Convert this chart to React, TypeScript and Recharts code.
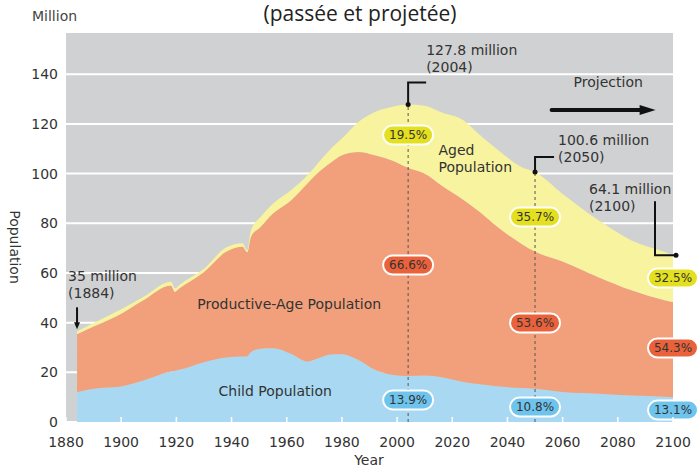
import React from 'react';
import {
  AreaChart,
  Area,
  XAxis,
  YAxis,
  CartesianGrid,
  ReferenceLine,
  ReferenceDot,
} from 'recharts';

// population in millions
const years = [
  1884, 1890, 1900, 1908, 1918, 1919.5, 1921, 1930, 1938, 1944, 1945.7, 1947,
  1950.5, 1955, 1961.5, 1967.5, 1971, 1976, 1980, 1986, 1992, 1998, 2004, 2010,
  2016, 2024, 2030, 2036, 2045, 2050, 2060, 2073, 2085, 2097, 2100,
];
const childPop = [
  12.0, 13.4, 14.3, 16.7, 20.3, 20.6, 21.0, 24.1, 26.0, 26.4, 26.5, 28.1,
  29.5, 29.7, 27.5, 24.4, 25.5, 27.2, 27.3, 25.0, 21.0, 19.0, 18.5, 18.7,
  18.0, 16.1, 15.2, 14.4, 13.7, 13.4, 12.1, 11.4, 10.7, 10.2, 10.0,
];
const productivePop = [
  23.3, 25.0, 29.3, 32.3, 34.7, 31.8, 32.7, 36.3, 42.5, 44.1, 41.8, 46.4,
  49.0, 54.2, 61.7, 71.6, 74.5, 77.3, 80.1, 83.7, 86.4, 86.4, 83.9, 81.3,
  77.3, 73.4, 69.3, 64.5, 58.1, 55.2, 52.5, 46.9, 42.3, 38.8, 38.3,
];
const agedPop = [
  1.2, 1.5, 1.8, 1.3, 1.5, 1.4, 1.4, 1.3, 1.7, 1.5, 0.8, 2.5,
  4.0, 4.0, 4.1, 3.3, 3.8, 5.5, 6.7, 12.1, 17.4, 21.4, 25.4, 27.3,
  29.4, 32.0, 31.0, 31.1, 30.9, 32.0, 27.2, 22.9, 20.1, 19.4, 18.8,
];

const xTicks = [1880, 1900, 1920, 1940, 1960, 1980, 2000, 2020, 2040, 2060, 2080, 2100];
const yTicks = [0, 20, 40, 60, 80, 100, 120, 140];

// highlighted years and their totals
const markYears = [2004, 2050, 2100];
const markTotals = [127.8, 100.6, 64.1];
const agedShare = ['19.5%', '35.7%', '32.5%'];
const productiveShare = ['66.6%', '53.6%', '54.3%'];
const childShare = ['13.9%', '10.8%', '13.1%'];

const chartData = years.map((year, i) => ({
  year,
  child: childPop[i],
  productive: productivePop[i],
  aged: agedPop[i],
}));

const FONT = 'DejaVu Sans';
const INK = '#333';

const COLORS = {
  grid: '#d0d1d2',
  child: '#a9d9f2',
  productive: '#f2a07b',
  aged: '#f8f39e',
  childPill: '#6ec4ec',
  productivePill: '#e9623b',
  agedPill: '#e4e01f',
};

function Pill({ cx, cy, text, color }: { cx: number; cy: number; text: string; color: string }) {
  const w = 50;
  const h = 19;
  return (
    <g>
      <rect
        x={cx - w / 2}
        y={cy - h / 2}
        width={w}
        height={h}
        rx={h / 2}
        fill={color}
        stroke="#fff"
        strokeWidth={2}
      />
      <text x={cx} y={cy} dy="0.36em" textAnchor="middle" fontSize={12} fill={INK} fontFamily={FONT}>
        {text}
      </text>
    </g>
  );
}

function TwoLines({ x, y, lines }: { x: number; y: number; lines: string[] }) {
  return (
    <text x={x} y={y} fontSize={14} fill={INK} fontFamily={FONT}>
      {lines.map((line, i) => (
        <tspan key={i} x={x} dy={i === 0 ? 0 : 17}>
          {line}
        </tspan>
      ))}
    </text>
  );
}

function XTick({ x, y, payload }: any) {
  return (
    <g>
      <line x1={x} x2={x} y1={y} y2={y - 5} stroke="#fff" strokeWidth={1.5} />
      <text x={x} y={y + 25} textAnchor="middle" fontSize={14} fill={INK} fontFamily={FONT}>
        {payload.value}
      </text>
    </g>
  );
}

// pill positions (value axis) for each highlighted year
const agedPillAt = [115.5, 82.5, 58];
const productivePillAt = [63.2, 39.9, 29.8];
const childPillAt = [8.9, 6, 4.8];

export default function App() {
  return (
    <div
      style={{
        position: 'absolute',
        left: 0,
        top: 0,
        width: 698,
        height: 469,
        background: '#fff',
      }}
    >
      <AreaChart
        width={698}
        height={469}
        data={chartData}
        margin={{ top: 32, right: 25, bottom: 0, left: 0 }}
      >
        <CartesianGrid fill={COLORS.grid} fillOpacity={1} stroke="#fff" strokeWidth={2} vertical={false} />
        <XAxis
          dataKey="year"
          type="number"
          domain={[1880, 2100]}
          ticks={xTicks}
          height={47}
          axisLine={false}
          tickLine={false}
          tickSize={0}
          tickMargin={0}
          tick={<XTick />}
          interval={0}
        />
        <YAxis
          type="number"
          domain={[0, 157]}
          ticks={yTicks}
          width={66}
          axisLine={false}
          tickLine={false}
          tick={{ fontSize: 14, fill: INK, fontFamily: FONT }}
          interval={0}
        />
        <Area
          type="monotone"
          dataKey="child"
          stackId="pop"
          stroke="none"
          fill={COLORS.child}
          fillOpacity={1}
          isAnimationActive={false}
        />
        <Area
          type="monotone"
          dataKey="productive"
          stackId="pop"
          stroke="none"
          fill={COLORS.productive}
          fillOpacity={1}
          isAnimationActive={false}
        />
        <Area
          type="monotone"
          dataKey="aged"
          stackId="pop"
          stroke="none"
          fill={COLORS.aged}
          fillOpacity={1}
          isAnimationActive={false}
        />

        {/* dashed guides */}
        <ReferenceLine
          segment={[{ x: markYears[0], y: 0 }, { x: markYears[0], y: markTotals[0] }]}
          stroke="#555"
          strokeDasharray="3 3"
        />
        <ReferenceLine
          segment={[{ x: markYears[1], y: 0 }, { x: markYears[1], y: markTotals[1] }]}
          stroke="#555"
          strokeDasharray="3 3"
        />

        {/* area labels */}
        <ReferenceDot
          x={2015}
          y={107.5}
          shape={(p: any) => <TwoLines x={p.cx} y={p.cy} lines={['Aged', 'Population']} />}
        />
        <ReferenceDot
          x={1927.6}
          y={45.5}
          shape={(p: any) => <TwoLines x={p.cx} y={p.cy} lines={['Productive-Age Population']} />}
        />
        <ReferenceDot
          x={1935.3}
          y={10.5}
          shape={(p: any) => <TwoLines x={p.cx} y={p.cy} lines={['Child Population']} />}
        />

        {/* 1884 start */}
        <ReferenceDot
          x={1884}
          y={36.5}
          shape={(p: any) => (
            <g>
              <line x1={p.cx} x2={p.cx} y1={p.cy - 24} y2={p.cy - 8} stroke="#111" strokeWidth={2} />
              <polygon
                points={`${p.cx - 3},${p.cy - 9} ${p.cx + 3},${p.cy - 9} ${p.cx},${p.cy - 2}`}
                fill="#111"
              />
              <TwoLines x={p.cx - 9} y={p.cy - 50} lines={['35 million', '(1884)']} />
            </g>
          )}
        />

        {/* 2004 peak */}
        <ReferenceDot
          x={markYears[0]}
          y={markTotals[0]}
          shape={(p: any) => (
            <g>
              <path
                d={`M${p.cx},${p.cy} V${p.cy - 22} H${p.cx + 18}`}
                fill="none"
                stroke="#111"
                strokeWidth={2}
              />
              <circle cx={p.cx} cy={p.cy} r={2.5} fill="#111" />
              <TwoLines x={p.cx + 18} y={p.cy - 50} lines={['127.8 million', '(2004)']} />
            </g>
          )}
        />

        {/* 2050 */}
        <ReferenceDot
          x={markYears[1]}
          y={markTotals[1]}
          shape={(p: any) => (
            <g>
              <path
                d={`M${p.cx},${p.cy} V${p.cy - 15} H${p.cx + 19}`}
                fill="none"
                stroke="#111"
                strokeWidth={2}
              />
              <circle cx={p.cx} cy={p.cy} r={2.5} fill="#111" />
              <TwoLines x={p.cx + 23} y={p.cy - 27} lines={['100.6 million', '(2050)']} />
            </g>
          )}
        />

        {/* 2100 end */}
        <ReferenceDot
          x={markYears[2]}
          y={67.1}
          shape={(p: any) => (
            <g>
              <path
                d={`M${p.cx + 3},${p.cy} H${p.cx - 18} V${p.cy - 54}`}
                fill="none"
                stroke="#111"
                strokeWidth={2}
              />
              <circle cx={p.cx + 3} cy={p.cy} r={2.5} fill="#111" />
              <TwoLines x={p.cx - 84} y={p.cy - 61} lines={[`${markTotals[2]} million`, '(2100)']} />
            </g>
          )}
        />

        {/* projection arrow */}
        <ReferenceDot
          x={2056}
          y={125.6}
          shape={(p: any) => (
            <g>
              <line
                x1={p.cx}
                x2={p.cx + 90}
                y1={p.cy}
                y2={p.cy}
                stroke="#111"
                strokeWidth={4}
                strokeLinecap="round"
              />
              <polygon
                points={`${p.cx + 88},${p.cy - 5} ${p.cx + 104},${p.cy} ${p.cx + 88},${p.cy + 5}`}
                fill="#111"
              />
              <text x={p.cx + 22} y={p.cy - 23} fontSize={14} fill={INK} fontFamily={FONT}>
                Projection
              </text>
            </g>
          )}
        />

        {/* share pills */}
        {markYears.map((yr, i) => (
          <ReferenceDot
            key={`a${yr}`}
            x={yr}
            y={agedPillAt[i]}
            shape={(p: any) => <Pill cx={p.cx} cy={p.cy} text={agedShare[i]} color={COLORS.agedPill} />}
          />
        ))}
        {markYears.map((yr, i) => (
          <ReferenceDot
            key={`p${yr}`}
            x={yr}
            y={productivePillAt[i]}
            shape={(p: any) => (
              <Pill cx={p.cx} cy={p.cy} text={productiveShare[i]} color={COLORS.productivePill} />
            )}
          />
        ))}
        {markYears.map((yr, i) => (
          <ReferenceDot
            key={`c${yr}`}
            x={yr}
            y={childPillAt[i]}
            shape={(p: any) => <Pill cx={p.cx} cy={p.cy} text={childShare[i]} color={COLORS.childPill} />}
          />
        ))}
      </AreaChart>

      {/* titles and axis names */}
      <svg
        width={698}
        height={469}
        style={{ position: 'absolute', left: 0, top: 0, pointerEvents: 'none' }}
      >
        <text x={32} y={21} fontSize={14} fill="#444" fontFamily={FONT}>
          Million
        </text>
        <text x={360} y={21} fontSize={21} fill="#222" fontFamily="Open Sans" textAnchor="middle">
          (passée et projetée)
        </text>
        <text
          x={15}
          y={247}
          fontSize={14}
          fill={INK}
          fontFamily={FONT}
          textAnchor="middle"
          dominantBaseline="central"
          transform="rotate(90 15 247)"
        >
          Population
        </text>
        <text x={369} y={465} fontSize={14} fill={INK} fontFamily={FONT} textAnchor="middle">
          Year
        </text>
      </svg>
    </div>
  );
}
